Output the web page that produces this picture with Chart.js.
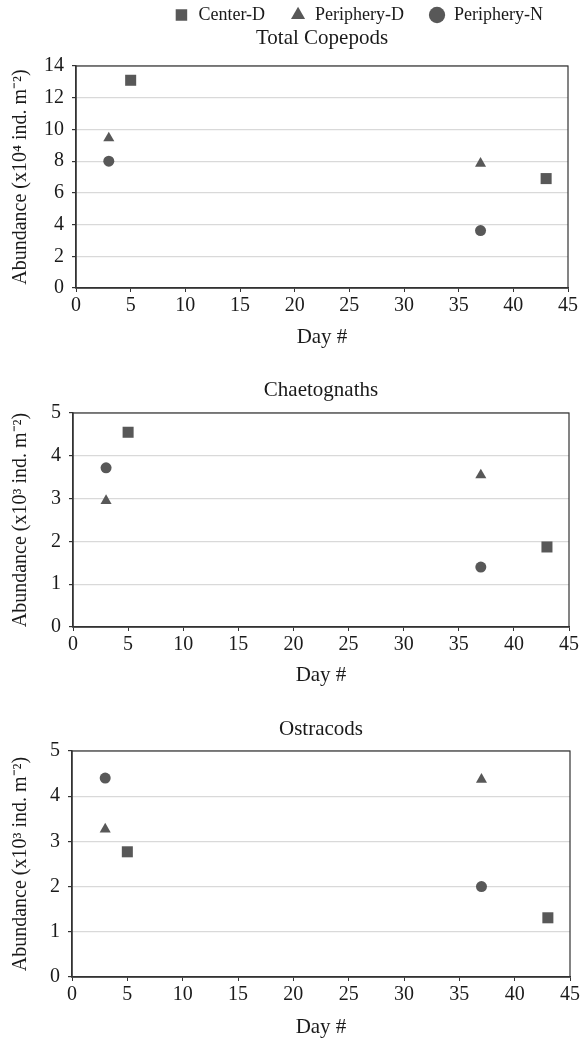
<!DOCTYPE html>
<html>
<head>
<meta charset="utf-8">
<script src="https://cdn.jsdelivr.net/npm/chart.js@4"></script>
<style>
  html, body { margin: 0; padding: 0; background: #fff; }
  body { width: 582px; height: 1040px; position: relative; overflow: hidden; }
  .box { position: absolute; left: 0; width: 582px; }
</style>
</head>
<body>
<div class="box" style="top:0;height:350px"><canvas id="copepods"></canvas></div>
<div class="box" style="top:350px;height:350px"><canvas id="chaetognaths"></canvas></div>
<div class="box" style="top:700px;height:340px"><canvas id="ostracods"></canvas></div>
<script>
// sampling days
const centerDays = [5, 43];
const peripheryDays = [3, 37];
const xTicks = [0, 5, 10, 15, 20, 25, 30, 35, 40, 45];

// Total Copepods (x10^4 ind. m^-2)
const copepodCenterD = [13.1, 6.9];
const copepodPeripheryD = [9.45, 7.85];
const copepodPeripheryN = [8.0, 3.62];

// Chaetognaths (x10^3 ind. m^-2)
const chaetoCenterD = [4.55, 1.87];
const chaetoPeripheryD = [2.95, 3.55];
const chaetoPeripheryN = [3.72, 1.4];

// Ostracods (x10^3 ind. m^-2)
const ostraCenterD = [2.77, 1.31];
const ostraPeripheryD = [3.27, 4.37];
const ostraPeripheryN = [4.4, 2.0];

const FONT = "'Liberation Serif', 'Times New Roman', serif";
const MARK = "#585858";
const AXIS = "#333";
const INK = "#1a1a1a";

function pts(xs, ys) { return xs.map((x, i) => ({ x, y: ys[i] })); }

// frame round the plot area; title centred over the plot; legend/title moved to fixed rows
const frame = {
  id: "frame",
  afterLayout(chart, args, opts) {
    const a = chart.chartArea;
    const t = chart.titleBlock;
    if (t) {
      t.left = a.left; t.right = a.right;
      if (opts.titleY != null) t.top = opts.titleY - t.options.font.size * 0.6;
    }
    const l = chart.legend;
    if (l && l.options.display && opts.legendY != null) {
      l.top = opts.legendY - l.options.labels.padding - l.options.labels.font.size / 2;
    }
  },
  beforeDatasetsDraw(chart) {
    const { ctx, chartArea: a } = chart;
    ctx.save();
    ctx.strokeStyle = AXIS;
    ctx.lineWidth = 1.2;
    ctx.strokeRect(a.left, a.top, a.right - a.left, a.bottom - a.top);
    ctx.restore();
  },
};

function scatter(id, o) {
  const canvas = document.getElementById(id);
  return new Chart(canvas, {
    type: "scatter",
    data: {
      datasets: [
        { label: "Center-D", data: pts(centerDays, o.center), pointStyle: "rect", pointRadius: 7.8, backgroundColor: MARK, borderColor: MARK, borderWidth: 0 },
        { label: "Periphery-D", data: pts(peripheryDays, o.periD), pointStyle: "triangle", pointRadius: 6.4, backgroundColor: MARK, borderColor: MARK, borderWidth: 0 },
        { label: "Periphery-N", data: pts(peripheryDays, o.periN), pointStyle: "circle", pointRadius: 5.5, backgroundColor: MARK, borderColor: MARK, borderWidth: 0 },
      ],
    },
    options: {
      responsive: true,
      maintainAspectRatio: false,
      animation: false,
      layout: { padding: o.pad },
      plugins: {
        frame: { titleY: o.titleY, legendY: o.legendY },
        legend: {
          display: !!o.legend,
          align: "end",
          labels: { usePointStyle: true, boxWidth: 16, boxHeight: 11.5, padding: 25, color: INK, font: { family: FONT, size: 18 } },
        },
        title: { display: true, text: o.title, color: INK, font: { family: FONT, size: 21, weight: "normal" }, padding: o.titlePad },
        tooltip: { enabled: false },
      },
      scales: {
        x: {
          type: "linear", min: 0, max: 45,
          afterBuildTicks: (s) => { s.ticks = xTicks.map((v) => ({ value: v })); },
          afterFit: (s) => { s.height = o.xH; },
          ticks: { color: INK, padding: 2, font: { family: FONT, size: 20 } },
          grid: { drawOnChartArea: false, drawTicks: true, tickLength: 4, color: AXIS },
          border: { color: AXIS, width: 1.5 },
          title: { display: true, text: "Day #", color: INK, padding: { top: 0, bottom: 0 }, font: { family: FONT, size: 21 } },
        },
        y: {
          min: 0, max: o.yMax,
          afterFit: (s) => { s.width = o.yW; },
          ticks: { stepSize: o.yStep, color: INK, padding: 8, font: { family: FONT, size: 20 } },
          grid: { color: "#d9d9d9", tickColor: AXIS, tickLength: 4, lineWidth: 1.2 },
          border: { color: AXIS, width: 1.5 },
          title: { display: true, text: o.yTitle, color: INK, padding: { top: 9, bottom: 0 }, font: { family: FONT, size: 20 } },
        },
      },
    },
    plugins: [frame],
  });
}

scatter("copepods", {
  title: "Total Copepods", legend: true, legendY: 15, titleY: 38,
  center: copepodCenterD, periD: copepodPeripheryD, periN: copepodPeripheryN,
  yMax: 14, yStep: 2, yTitle: "Abundance (x10\u2074 ind. m\u207B\u00B2)",
  pad: { top: 0, right: 14, left: 0, bottom: 0 }, titlePad: { top: 0, bottom: -12.2 },
  yW: 76, xH: 62,
});
scatter("chaetognaths", {
  title: "Chaetognaths",
  center: chaetoCenterD, periD: chaetoPeripheryD, periN: chaetoPeripheryN,
  yMax: 5, yStep: 1, yTitle: "Abundance (x10\u00B3 ind. m\u207B\u00B2)",
  pad: { top: 0, right: 13, left: 0, bottom: 12 }, titlePad: { top: 27.4, bottom: 10.4 },
  yW: 73, xH: 61,
});
scatter("ostracods", {
  title: "Ostracods",
  center: ostraCenterD, periD: ostraPeripheryD, periN: ostraPeripheryN,
  yMax: 5, yStep: 1, yTitle: "Abundance (x10\u00B3 ind. m\u207B\u00B2)",
  pad: { top: 0, right: 8, left: 0, bottom: 0 }, titlePad: { top: 16.4, bottom: 9.4 },
  yW: 72, xH: 63,
});
</script>
</body>
</html>
